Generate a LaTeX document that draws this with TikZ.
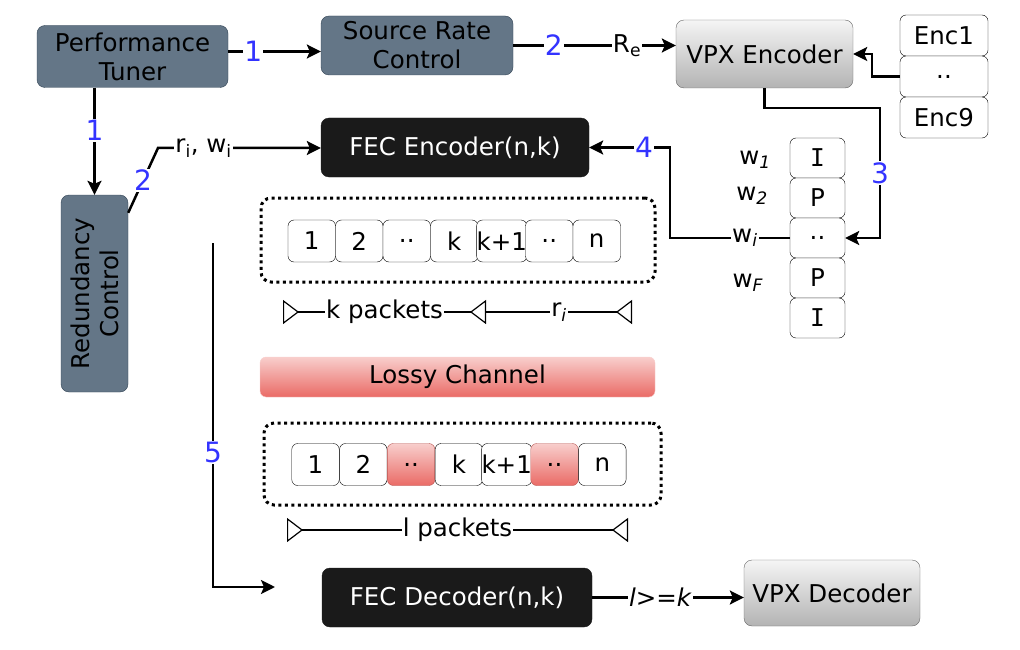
\documentclass[tikz,border=0pt]{standalone}
\usepackage{fontspec}
\setmainfont{DejaVu Sans}
\newfontfamily\serifI{DejaVu Sans Mono}
\usetikzlibrary{arrows.meta}
\definecolor{slate}{HTML}{647687}
\definecolor{slateline}{HTML}{314354}
\definecolor{fecblack}{HTML}{1A1A1A}
\definecolor{grayline}{HTML}{666666}
\definecolor{graytop}{HTML}{F5F5F5}
\definecolor{graybot}{HTML}{B3B3B3}
\definecolor{stepblue}{HTML}{3333FF}
\definecolor{losstop}{HTML}{F8CECC}
\definecolor{lossbot}{HTML}{EA6B66}
\definecolor{lossline}{HTML}{B85450}
\newcommand{\pdots}{..}
\newcommand{\frI}{{\serifI I}}
\begin{document}
\begin{tikzpicture}[x=1pt, y=-1pt, font=\fontsize{24.5}{29}\selectfont,
  slatebox/.style={draw=slateline, fill=slate, rounded corners=8pt, align=center, inner sep=0pt},
  blackbox/.style={draw=fecblack, fill=fecblack, text=white, rounded corners=8pt, inner sep=0pt},
  graybox/.style={draw=grayline, top color=graytop, bottom color=graybot, rounded corners=8pt, inner sep=0pt},
  lossbox/.style={draw=losstop, top color=losstop, bottom color=lossbot, rounded corners=6pt, inner sep=0pt},
  pkt/.style={draw, fill=white, rounded corners=6pt, minimum width=47.5, minimum height=42, inner sep=0pt},
  lostpkt/.style={pkt, draw=lossline, top color=losstop, bottom color=lossbot},
  dotframe/.style={draw, line width=3pt, dash pattern=on 3pt off 3.5pt, rounded corners=10pt},
  conn/.style={line width=2.5pt, -{Stealth[length=14pt, width=14pt, inset=3pt]}},
  dimline/.style={line width=1.2pt, {Triangle[open, reversed, length=16pt, width=24pt]}-{Triangle[open, reversed, length=16pt, width=24pt]}},
  dimhalf/.style={line width=1.2pt, -{Triangle[open, reversed, length=16pt, width=24pt]}},
  steplbl/.style={fill=white, text=stepblue, font=\fontsize{28}{31}\selectfont, inner sep=1pt},
  txtlbl/.style={fill=white, inner sep=1pt}]
\useasboundingbox (0,0) rectangle (1020,650);

\node[slatebox, minimum width=191, minimum height=62] (tuner) at (132.5,56.5) {Performance\\Tuner};
\node[slatebox, minimum width=192, minimum height=59] (src) at (417,45.5) {Source Rate\\Control};
\node[graybox, minimum width=177, minimum height=68] (vpxenc) at (764.5,54) {VPX Encoder};
\node[blackbox, minimum width=268, minimum height=59] (fecenc) at (455,147.5) {FEC Encoder(n,k)};
\node[slatebox, minimum width=67, minimum height=197] (redun) at (94.5,293.5) {};
\node[rotate=90, align=center] (redunlbl) at (redun.center) {Redundancy\\Control};
\node[lossbox, minimum width=395, minimum height=40] (loss) at (457.5,377) {Lossy Channel};
\node[blackbox, minimum width=270, minimum height=59] (fecdec) at (457,597.5) {FEC Decoder(n,k)};
\node[graybox, minimum width=176, minimum height=66] (vpxdec) at (832,593) {VPX Decoder};

\foreach \lbl/\nm [count=\i] in {Enc1/enca, \pdots/encb, Enc9/encc}
  \node[pkt, minimum width=88, minimum height=41] (\nm) at (944,{-5.5+41*\i}) {\lbl};
\foreach \lbl [count=\i] in {\frI,P,\pdots,P,\frI}
  \node[pkt, minimum width=55, minimum height=40] (fr\i) at (817.5,{118+40*\i}) {\lbl};
\node (wa) at (755,160) {w\textsubscript{\textit{1}}};
\node (wb) at (752,196) {w\textsubscript{\textit{2}}};
\node (wf) at (748,283) {w\textsubscript{\textit{F}}};

\node[dotframe, minimum width=394, minimum height=84] (grpa) at (458,240) {};
\node[dotframe, minimum width=397, minimum height=82] (grpb) at (462.5,464) {};
\foreach \lbl [count=\i] in {1,2,\pdots,k,k+1,\pdots,n}
  \node[pkt] (pa\i) at ({311.75+47.5*(\i-1)},241) {\lbl};
\foreach \lbl/\sty [count=\i] in {1/pkt,2/pkt,\pdots/lostpkt,k/pkt,k+1/pkt,\pdots/lostpkt,n/pkt}
  \node[\sty] (pb\i) at ({315.5+47.8*(\i-1)},464.5) {\lbl};

\coordinate (kstart) at (283,312);
\coordinate (kend) at (486,312);
\coordinate (rend) at (632,312);
\coordinate (lstart) at (287,530);
\coordinate (lend) at (628,530);
\draw[dimline] (kstart) -- node[txtlbl] {k packets} (kend);
\draw[dimhalf] (kend) -- node[txtlbl] {r\textsubscript{\textit{i}}} (rend);
\draw[dimline] (lstart) -- node[txtlbl] {l packets} (lend);

\coordinate (encturn) at (872,76.5);
\coordinate (vpxturn) at (880,108);
\coordinate (fecturn) at (670,238);
\coordinate (rwturn) at (158,148);
\coordinate (fivetop) at (213,243);
\coordinate (fiveend) at (275,587);

\draw[conn] ([yshift=5pt]tuner.east) -- node[steplbl, pos=0.27] {1} ([yshift=5pt]tuner.east -| src.west);
\draw[conn] (src.east) -- node[steplbl, pos=0.25] {2} node[txtlbl, pos=0.7] {R\textsubscript{e}} (src.east -| vpxenc.west);
\draw[conn] (encb.west) -- (encturn) |- (vpxenc.east);
\draw[conn] (vpxenc.south) |- (vpxturn) |- node[steplbl, pos=0.25] {3} (fr3.east);
\draw[conn] (fr3.west) -- node[txtlbl, pos=0.375] {w\textsubscript{\textit{i}}} (fecturn) |- node[steplbl, pos=0.66] {4} (fecenc.east);
\draw[conn] (redun.north |- tuner.south) -- node[steplbl, pos=0.4] {1} (redun.north);
\draw[conn] ([yshift=-18pt]redun.north east) -- node[steplbl] {2} (rwturn) -- node[txtlbl, pos=0.28] {r\textsubscript{i}, w\textsubscript{i}} (rwturn -| fecenc.west);
\draw[conn] (fivetop) |- node[steplbl, pos=0.305] {5} (fiveend);
\draw[conn] (fecdec.east) -- node[txtlbl, pos=0.45] {\textit{l>=k}} (fecdec.east -| vpxdec.west);
\end{tikzpicture}
\end{document}
